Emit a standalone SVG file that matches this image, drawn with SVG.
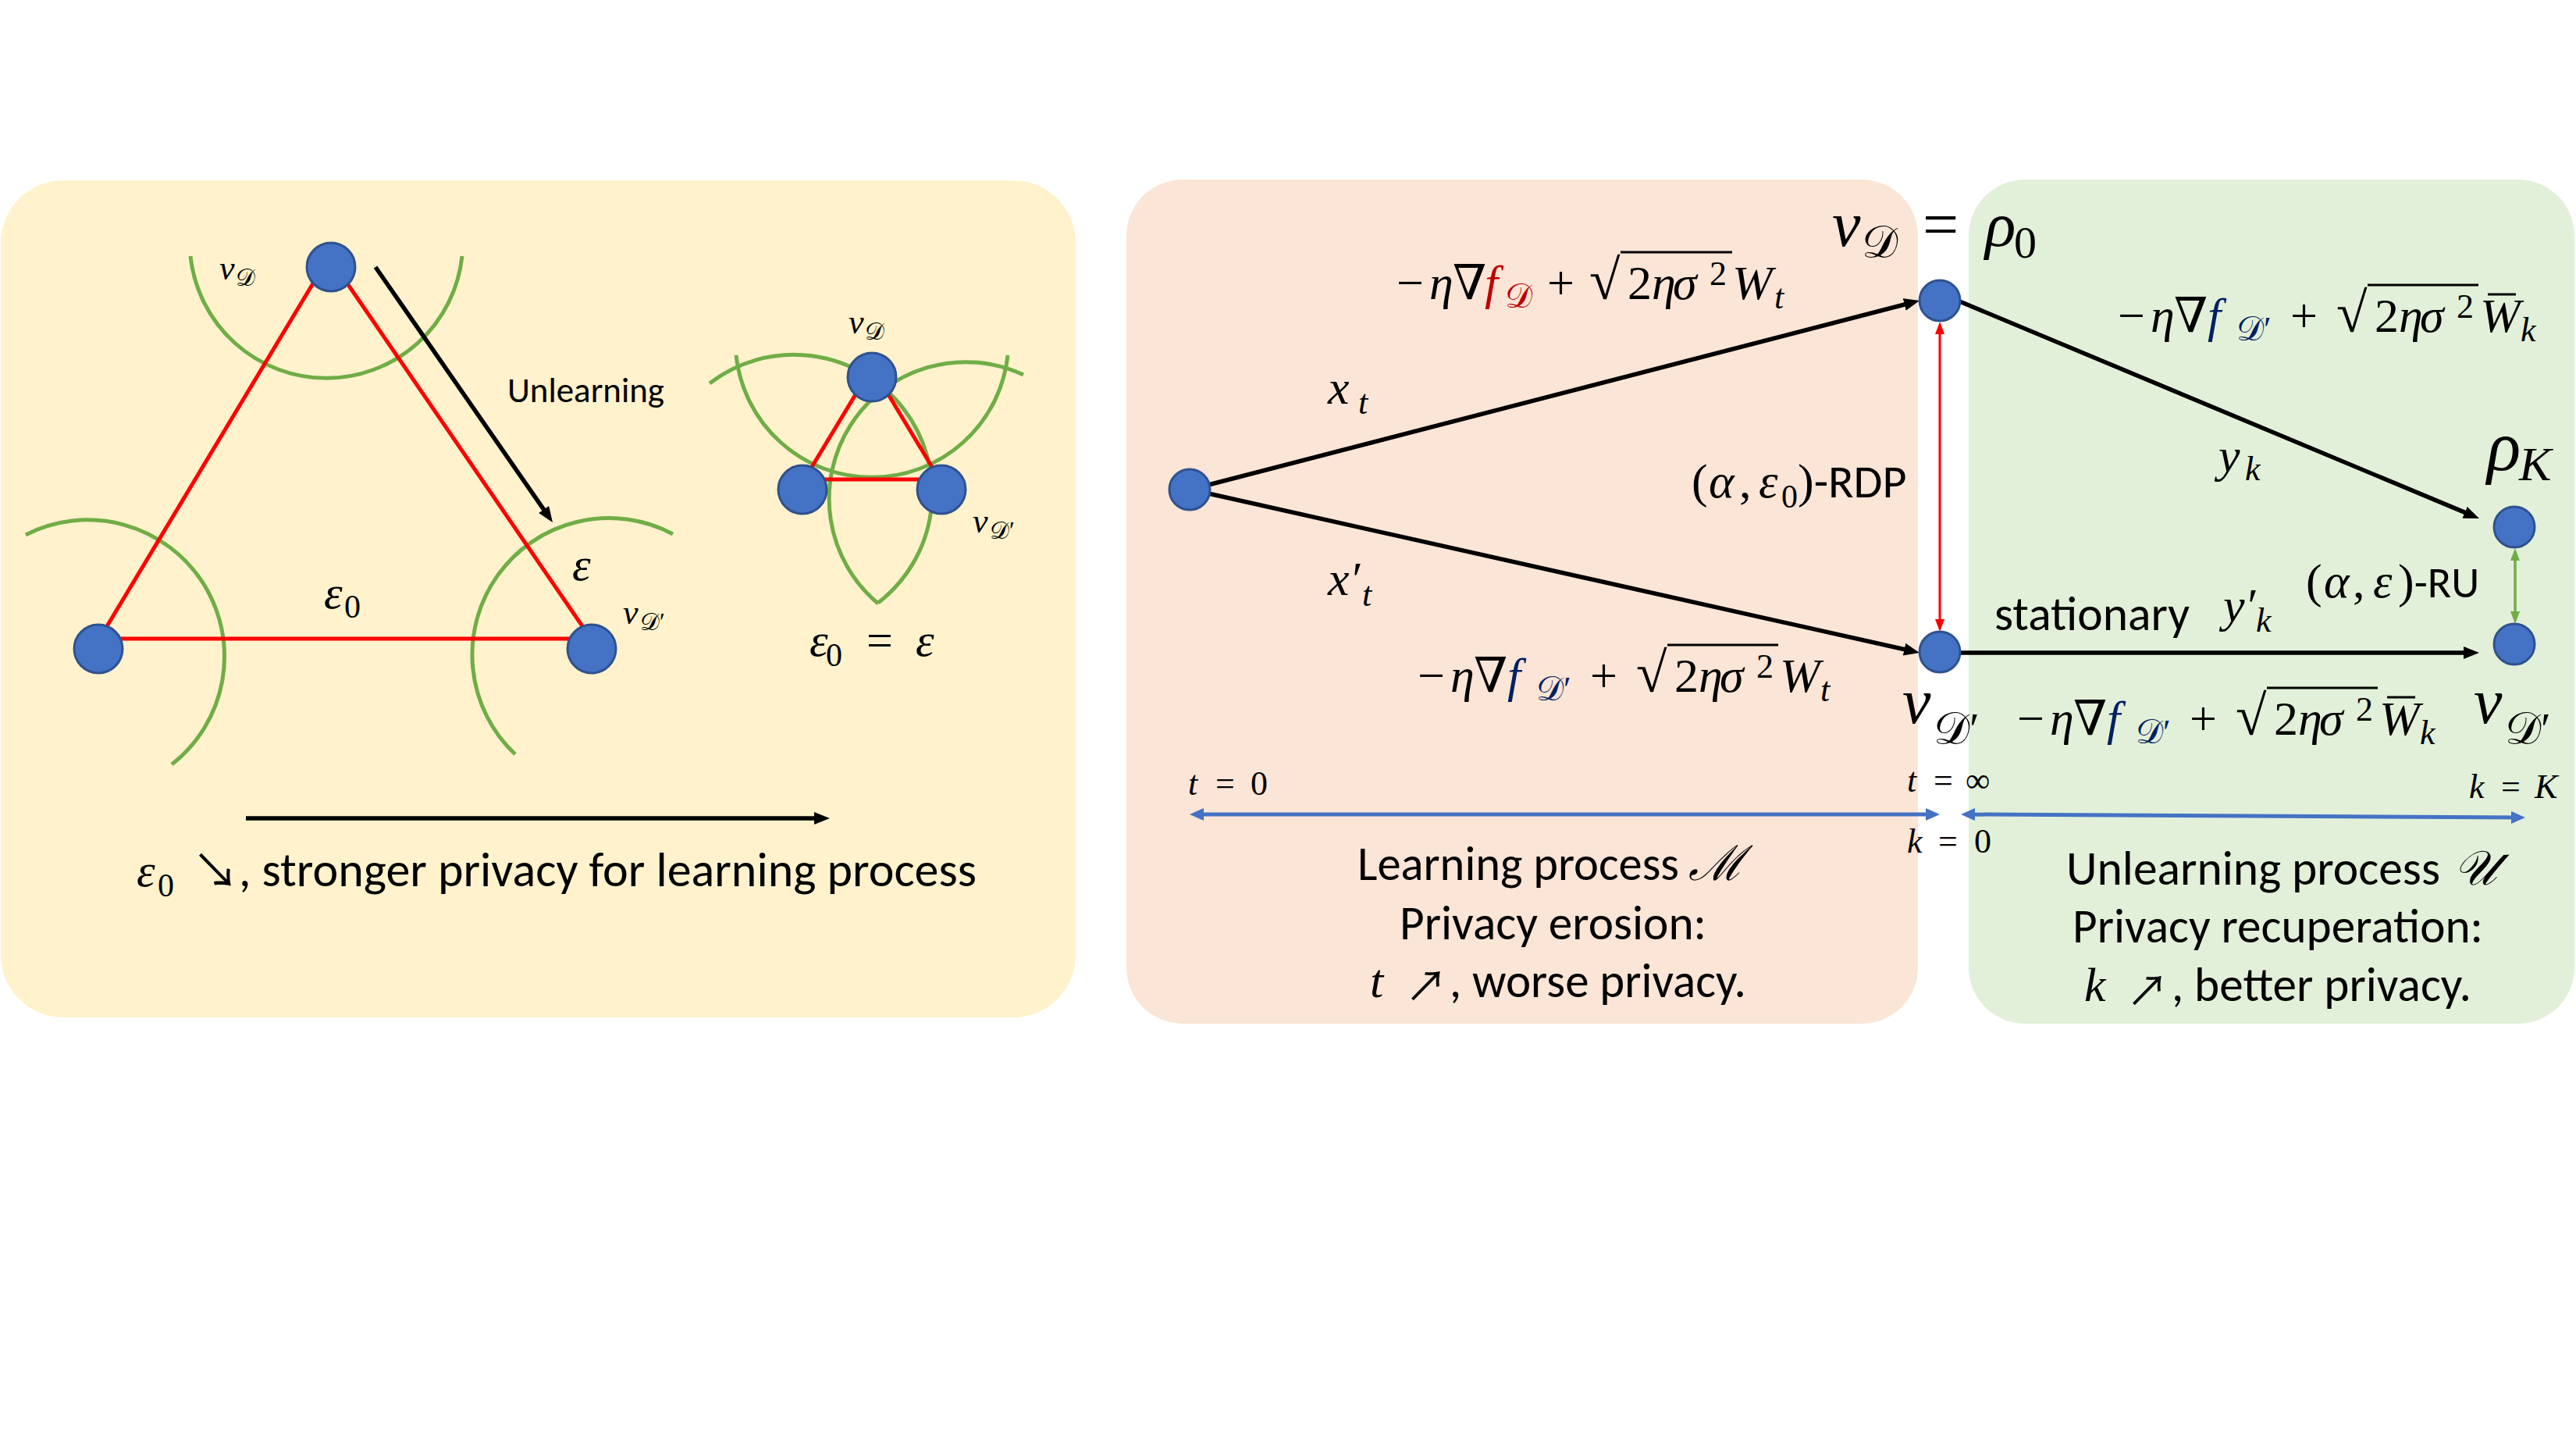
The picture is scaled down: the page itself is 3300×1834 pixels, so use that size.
<svg xmlns="http://www.w3.org/2000/svg" width="3300" height="1834" viewBox="0 0 3300 1834">
<style>
.sans{font-family:Carlito,Lato,'Liberation Sans',sans-serif;fill:#000}
.ss{font-family:Carlito,Lato,'Liberation Sans',sans-serif;font-style:normal}
.m{font-family:'Liberation Serif','DejaVu Serif',serif;font-style:italic;fill:#000}
.up{font-style:normal}
.cjk{font-family:'Noto Sans CJK SC',sans-serif;font-style:normal}
.node{fill:#4472C4;stroke:#2F528F;stroke-width:3}
.arc{fill:none;stroke:#70AD47;stroke-width:5}
.red{stroke:#FF0000;stroke-width:5;fill:none}
.blk{stroke:#000;stroke-width:5.5;fill:none}
.vin{stroke:#000;stroke-width:3;fill:none}
.red-f{fill:#C00000}
.blue-f{fill:#002060}
</style>
<defs>
<marker id="ab" viewBox="0 0 20 16" refX="12" refY="8" markerWidth="20" markerHeight="16" markerUnits="userSpaceOnUse" orient="auto"><path d="M0,0L20,8L0,16z" fill="#000"/></marker>
<marker id="ar" viewBox="0 0 16 12" refX="10" refY="6" markerWidth="16" markerHeight="12" markerUnits="userSpaceOnUse" orient="auto-start-reverse"><path d="M0,0L16,6L0,12z" fill="#FF0000"/></marker>
<marker id="ag" viewBox="0 0 16 12" refX="10" refY="6" markerWidth="16" markerHeight="12" markerUnits="userSpaceOnUse" orient="auto-start-reverse"><path d="M0,0L16,6L0,12z" fill="#70AD47"/></marker>
<marker id="au" viewBox="0 0 18 16" refX="11" refY="8" markerWidth="18" markerHeight="16" markerUnits="userSpaceOnUse" orient="auto-start-reverse"><path d="M0,0L18,8L0,16z" fill="#4472C4"/></marker>
</defs>
<rect width="3300" height="1834" fill="#FFFFFF"/>

<g id="panels">
<rect x="1" y="231" width="1377" height="1072" rx="80" fill="#FFF2CC"/>
<rect x="1443" y="230" width="1014" height="1081" rx="72" fill="#FBE5D6"/>
<rect x="2522" y="230" width="776" height="1081" rx="72" fill="#E2F0D9"/>
</g>

<g id="circles">
<path class="arc" d="M592,328 A175,175 0 0 1 244,328"/>
<path class="arc" d="M33,685 A175,175 0 0 1 220,979"/>
<path class="arc" d="M862,684 A175,175 0 0 0 660,966"/>
<path class="arc" d="M909,491 A175,175 0 0 1 1125,772"/>
<path class="arc" d="M943,455 A175,175 0 0 0 1291,455"/>
<path class="arc" d="M1311,480 A175,175 0 0 0 1125,773"/>
</g>

<g id="connectors">
<line class="red" x1="410" y1="348" x2="128" y2="817"/>
<line class="red" x1="436" y1="350" x2="755" y2="815"/>
<line class="red" x1="140" y1="818" x2="740" y2="818" stroke-width="6"/>
<line class="red" x1="1101" y1="497" x2="1040" y2="598" stroke-width="4"/>
<line class="red" x1="1133" y1="497" x2="1194" y2="598" stroke-width="4"/>
<line class="red" x1="1050" y1="614" x2="1185" y2="614" stroke-width="4"/>
<line class="blk" x1="481" y1="342" x2="703.4" y2="662.4" stroke-width="4.5" marker-end="url(#ab)"/>
<line class="blk" x1="315" y1="1048" x2="1055" y2="1048" marker-end="url(#ab)"/>
<line class="blk" x1="1548" y1="621" x2="2451.3" y2="387" marker-end="url(#ab)"/>
<line class="blk" x1="1548" y1="632" x2="2451.2" y2="834.3" marker-end="url(#ab)"/>
<line class="blk" x1="2508" y1="385" x2="3168.6" y2="660.9" marker-end="url(#ab)"/>
<line class="blk" x1="2508" y1="836" x2="3168" y2="836" marker-end="url(#ab)"/>
<line x1="2485" y1="418" x2="2485" y2="803" stroke="#FF0000" stroke-width="3" marker-start="url(#ar)" marker-end="url(#ar)"/>
<line x1="3222" y1="708" x2="3222" y2="793" stroke="#70AD47" stroke-width="3.5" marker-start="url(#ag)" marker-end="url(#ag)"/>
<line x1="1531" y1="1043" x2="2478" y2="1043" stroke="#4472C4" stroke-width="5" marker-start="url(#au)" marker-end="url(#au)"/>
<line x1="2519" y1="1043" x2="3228" y2="1047" stroke="#4472C4" stroke-width="5" marker-start="url(#au)" marker-end="url(#au)"/>
</g>

<g id="node-left-top"><circle class="node" cx="424" cy="342" r="31"/></g>
<g id="node-left-bl"><circle class="node" cx="126" cy="831" r="31"/></g>
<g id="node-left-br"><circle class="node" cx="758" cy="831" r="31"/></g>
<g id="node-small-top"><circle class="node" cx="1117" cy="483" r="31"/></g>
<g id="node-small-bl"><circle class="node" cx="1028" cy="627" r="31"/></g>
<g id="node-small-br"><circle class="node" cx="1206" cy="627" r="31"/></g>
<g id="node-start"><circle class="node" cx="1524" cy="627" r="26"/></g>
<g id="node-nuD"><circle class="node" cx="2485" cy="385" r="26"/></g>
<g id="node-nuD2"><circle class="node" cx="2485" cy="835" r="26"/></g>
<g id="node-rhoK"><circle class="node" cx="3221" cy="675" r="26"/></g>
<g id="node-nuD2-final"><circle class="node" cx="3221" cy="825" r="26"/></g>

<g id="labels-left">
<text class="m" x="281" y="358" font-size="44">ν<tspan class="up" x="302" y="366" font-size="31">𝒟</tspan></text>
<text class="m" x="798" y="799" font-size="44">ν<tspan class="up" x="820" y="807" font-size="31">𝒟′</tspan></text>
<text class="m" x="733" y="743" font-size="60">ε</text>
<text class="m" x="415" y="779" font-size="60">ε<tspan class="up" x="441" y="791" font-size="42">0</tspan></text>
<text class="sans" x="650" y="515" font-size="45" textLength="201" lengthAdjust="spacingAndGlyphs">Unlearning</text>
<text class="m" x="1087" y="427" font-size="44">ν<tspan class="up" x="1108" y="435" font-size="31">𝒟</tspan></text>
<text class="m" x="1246" y="682" font-size="44">ν<tspan class="up" x="1268" y="690" font-size="31">𝒟′</tspan></text>
<text class="m" x="1037" y="840" font-size="60">ε<tspan class="up" x="1058" y="853" font-size="42">0</tspan><tspan class="up" x="1110" y="840">=</tspan><tspan x="1173">ε</tspan></text>
<text class="m" x="175" y="1135" font-size="60">ε<tspan class="up" x="202" y="1148" font-size="42">0</tspan></text>
<text class="cjk" x="246" y="1137" font-size="60">↘</text>
<text class="sans" x="306" y="1135" font-size="62" textLength="945" lengthAdjust="spacingAndGlyphs">, stronger privacy for learning process</text>
</g>

<g id="formula-learn-D" transform="translate(1789,383)">
<text class="m" font-size="62"><tspan class="up" x="0" y="0">−</tspan><tspan x="42">η</tspan><tspan class="up" x="72">∇</tspan><tspan class="red-f" x="113">f</tspan><tspan class="up red-f" x="139" y="11" font-size="44">𝒟</tspan><tspan class="up" x="193" y="0">+</tspan><tspan class="up" x="247" font-size="72">√</tspan><tspan class="up" x="296">2</tspan><tspan x="327">η</tspan><tspan x="354">σ</tspan><tspan class="up" x="401" y="-18" font-size="44">2</tspan><tspan x="430" y="0">W</tspan><tspan x="484" y="12" font-size="44">t</tspan></text>
<line class="vin" x1="287" y1="-60" x2="430" y2="-60"/>
</g>

<g id="formula-learn-D2" transform="translate(1816,886)">
<text class="m" font-size="62"><tspan class="up" x="0" y="0">−</tspan><tspan x="42">η</tspan><tspan class="up" x="72">∇</tspan><tspan class="blue-f" x="115">f</tspan><tspan class="up blue-f" x="152" y="11" font-size="44">𝒟′</tspan><tspan class="up" x="221" y="0">+</tspan><tspan class="up" x="280" font-size="72">√</tspan><tspan class="up" x="329">2</tspan><tspan x="360">η</tspan><tspan x="387">σ</tspan><tspan class="up" x="434" y="-18" font-size="44">2</tspan><tspan x="464" y="0">W</tspan><tspan x="516" y="12" font-size="44">t</tspan></text>
<line class="vin" x1="320" y1="-60" x2="462" y2="-60"/>
</g>

<g id="formula-unlearn-top" transform="translate(2713,425)">
<text class="m" font-size="62"><tspan class="up" x="0" y="0">−</tspan><tspan x="42">η</tspan><tspan class="up" x="72">∇</tspan><tspan class="blue-f" x="115">f</tspan><tspan class="up blue-f" x="152" y="11" font-size="44">𝒟′</tspan><tspan class="up" x="221" y="0">+</tspan><tspan class="up" x="280" font-size="72">√</tspan><tspan class="up" x="329">2</tspan><tspan x="360">η</tspan><tspan x="387">σ</tspan><tspan class="up" x="434" y="-18" font-size="44">2</tspan><tspan x="464" y="0">W</tspan><tspan x="516" y="12" font-size="44">k</tspan></text>
<line class="vin" x1="320" y1="-60" x2="462" y2="-60"/>
<line class="vin" x1="474" y1="-48" x2="510" y2="-48"/>
</g>

<g id="formula-unlearn-bottom" transform="translate(2584,941)">
<text class="m" font-size="62"><tspan class="up" x="0" y="0">−</tspan><tspan x="42">η</tspan><tspan class="up" x="72">∇</tspan><tspan class="blue-f" x="115">f</tspan><tspan class="up blue-f" x="152" y="11" font-size="44">𝒟′</tspan><tspan class="up" x="221" y="0">+</tspan><tspan class="up" x="280" font-size="72">√</tspan><tspan class="up" x="329">2</tspan><tspan x="360">η</tspan><tspan x="387">σ</tspan><tspan class="up" x="434" y="-18" font-size="44">2</tspan><tspan x="464" y="0">W</tspan><tspan x="516" y="12" font-size="44">k</tspan></text>
<line class="vin" x1="320" y1="-60" x2="462" y2="-60"/>
<line class="vin" x1="474" y1="-48" x2="510" y2="-48"/>
</g>

<g id="labels-right">
<text class="m" x="1701" y="517" font-size="62">x<tspan x="1740" y="530" font-size="44">t</tspan></text>
<text class="m" x="1701" y="762" font-size="62">x′<tspan x="1745" y="776" font-size="44">t</tspan></text>
<text class="m" x="2167" y="637" font-size="62"><tspan class="up">(</tspan><tspan x="2189">α</tspan><tspan class="up" x="2228">,</tspan><tspan x="2253">ε</tspan><tspan class="up" x="2282" y="650" font-size="42">0</tspan><tspan class="up" y="637">)</tspan><tspan class="ss" font-size="60">-RDP</tspan></text>
<text class="m" x="2347" y="315" font-size="82">ν<tspan class="up" x="2385" y="330" font-size="58">𝒟</tspan><tspan class="up" x="2463" y="315">=</tspan><tspan x="2543">ρ</tspan><tspan class="up" x="2580" y="330" font-size="58">0</tspan></text>
<text class="m" x="2437" y="926" font-size="82">ν<tspan class="up" x="2477" y="953" font-size="58">𝒟′</tspan></text>
<text class="m" x="3169" y="926" font-size="82">ν<tspan class="up" x="3209" y="953" font-size="58">𝒟′</tspan></text>
<text class="m" x="3186" y="602" font-size="90">ρ<tspan x="3227" y="615" font-size="62">K</tspan></text>
<text class="m" x="2842" y="604" font-size="62">y<tspan x="2876" y="615" font-size="44">k</tspan></text>
<text class="sans" x="2555" y="807" font-size="62" textLength="250" lengthAdjust="spacingAndGlyphs">stationary</text>
<text class="m" x="2848" y="796" font-size="62">y′<tspan x="2890" y="809" font-size="44">k</tspan></text>
<text class="m" x="2954" y="765" font-size="62"><tspan class="up">(</tspan><tspan x="2977">α</tspan><tspan class="up" x="3014">,</tspan><tspan x="3040">ε</tspan><tspan class="up" x="3072">)</tspan><tspan class="ss" font-size="56">-RU</tspan></text>
</g>

<g id="timeline-labels">
<text class="m" x="1522" y="1018" font-size="44">t<tspan class="up" x="1557">=</tspan><tspan class="up" x="1602">0</tspan></text>
<text class="m" x="2443" y="1014" font-size="44">t<tspan class="up" x="2477">=</tspan><tspan class="up" x="2518">∞</tspan></text>
<text class="m" x="2443" y="1092" font-size="44">k<tspan class="up" x="2483">=</tspan><tspan class="up" x="2529">0</tspan></text>
<text class="m" x="3163" y="1022" font-size="44">k<tspan class="up" x="3204">=</tspan><tspan x="3247">K</tspan></text>
</g>

<g id="captions">
<text class="sans" x="1739" y="1127" font-size="62" textLength="412" lengthAdjust="spacingAndGlyphs">Learning process</text>
<text class="m" x="2163" y="1127" font-size="62">ℳ</text>
<text class="sans" x="1793" y="1203" font-size="62" textLength="393" lengthAdjust="spacingAndGlyphs">Privacy erosion:</text>
<text class="m" x="1755" y="1277" font-size="62">t</text>
<text class="cjk" x="1800" y="1283" font-size="54">↗</text>
<text class="sans" x="1857" y="1277" font-size="62" textLength="380" lengthAdjust="spacingAndGlyphs">, worse privacy.</text>
<text class="sans" x="2647" y="1133" font-size="62" textLength="479" lengthAdjust="spacingAndGlyphs">Unlearning process</text>
<text class="m" x="3143" y="1133" font-size="62">𝒰</text>
<text class="sans" x="2655" y="1207" font-size="62" textLength="526" lengthAdjust="spacingAndGlyphs">Privacy recuperation:</text>
<text class="m" x="2670" y="1282" font-size="62">k</text>
<text class="cjk" x="2724" y="1289" font-size="54">↗</text>
<text class="sans" x="2782" y="1282" font-size="62" textLength="384" lengthAdjust="spacingAndGlyphs">, better privacy.</text>
</g>
</svg>
